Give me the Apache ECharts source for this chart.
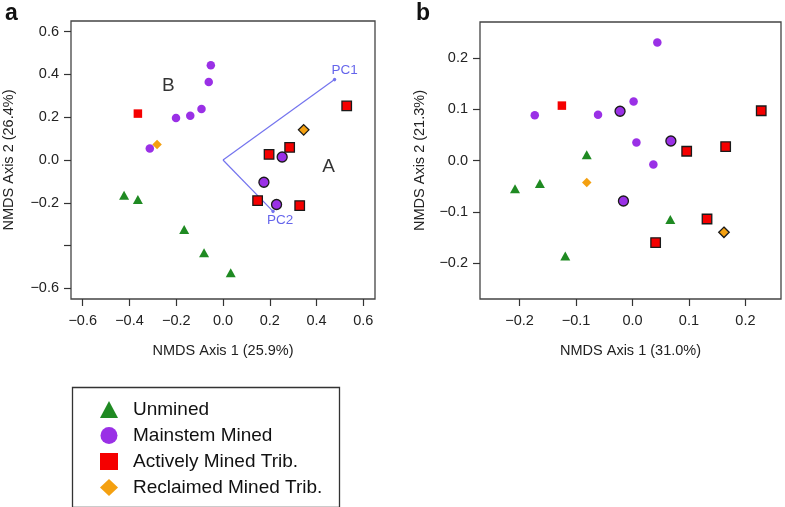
<!DOCTYPE html>
<html>
<head>
<meta charset="utf-8">
<script src="https://cdn.jsdelivr.net/npm/echarts@6/dist/echarts.min.js"></script>
<style>
  html, body { margin: 0; padding: 0; background: #fff; }
  #chart { width: 785px; height: 507px; }
</style>
</head>
<body>
<div id="chart"></div>
<script>
// group names (legend order)
var groups = ['Unmined', 'Mainstem Mined', 'Actively Mined Trib.', 'Reclaimed Mined Trib.'];

// panel a: NMDS scores [axis1, axis2]
var aUnmined = [[-0.423, -0.165], [-0.364, -0.185], [-0.166, -0.325], [-0.081, -0.434], [0.033, -0.527]];
var aMainstem = [[-0.052, 0.443], [-0.061, 0.365], [-0.092, 0.238], [-0.140, 0.207], [-0.201, 0.196], [-0.313, 0.054]];
var aMainstemOutlined = [[0.253, 0.014], [0.175, -0.104], [0.229, -0.208]];
var aActive = [[-0.364, 0.217]];
var aActiveOutlined = [[0.529, 0.253], [0.285, 0.059], [0.197, 0.026], [0.148, -0.190], [0.328, -0.213]];
var aReclaimed = [[-0.282, 0.073]];
var aReclaimedOutlined = [[0.345, 0.141]];
// PC vectors and cluster labels in panel a
var aPC1 = [0.477, 0.376];
var aPC2 = [0.214, -0.240];
var aClusterB = [-0.234, 0.346];
var aClusterA = [0.451, -0.030];

// panel b
var bUnmined = [[-0.208, -0.055], [-0.164, -0.045], [-0.081, 0.011], [0.067, -0.115], [-0.119, -0.186]];
var bMainstem = [[0.044, 0.230], [-0.173, 0.088], [-0.061, 0.089], [0.002, 0.115], [0.007, 0.035], [0.037, -0.008]];
var bMainstemOutlined = [[-0.022, 0.096], [0.068, 0.038], [-0.016, -0.079]];
var bActive = [[-0.125, 0.107]];
var bActiveOutlined = [[0.228, 0.097], [0.165, 0.027], [0.096, 0.018], [0.132, -0.114], [0.041, -0.160]];
var bReclaimed = [[-0.081, -0.043]];
var bReclaimedOutlined = [[0.162, -0.140]];

// ticks
var aXTicks = [-0.6, -0.4, -0.2, 0, 0.2, 0.4, 0.6];
var aYTicks = [-0.6, -0.4, -0.2, 0, 0.2, 0.4, 0.6];
var aYLabels = [-0.6, -0.2, 0, 0.2, 0.4, 0.6];
var bXTicks = [-0.2, -0.1, 0, 0.1, 0.2];
var bYTicks = [-0.2, -0.1, 0, 0.1, 0.2];

var aXTitle = 'NMDS Axis 1 (25.9%)';
var aYTitle = 'NMDS Axis 2 (26.4%)';
var bXTitle = 'NMDS Axis 1 (31.0%)';
var bYTitle = 'NMDS Axis 2 (21.3%)';

var FONT = 'Liberation Sans, Arial, Helvetica, sans-serif';
var colors = {
	'Unmined': '#1f8a22',
	'Mainstem Mined': '#9a30e6',
	'Actively Mined Trib.': '#f50000',
	'Reclaimed Mined Trib.': '#f4a010'
};
var symbols = {
	'Unmined': 'triangle',
	'Mainstem Mined': 'circle',
	'Actively Mined Trib.': 'rect',
	'Reclaimed Mined Trib.': 'diamond'
};

var fmt = function(v) {
	return (v < -1e-9 ? '\u2212' : '') + Math.abs(v).toFixed(1);
};

var makeAxis = function(min, max, ticks, labels, title, gap, margin) {
	return {
		type: 'value',
		min: min,
		max: max,
		name: title,
		nameLocation: 'middle',
		nameGap: gap,
		nameTextStyle: { fontFamily: FONT, fontSize: 14.5, color: '#222' },
		axisLine: { show: false, onZero: false },
		axisTick: { show: true, length: 7, customValues: ticks, lineStyle: { color: '#333', width: 1.2 } },
		axisLabel: { show: true, customValues: labels, margin: margin, formatter: fmt,
			fontFamily: FONT, fontSize: 14.5, color: '#222' },
		splitLine: { show: false }
	};
};

// scatter series for one group on one panel
var pts = function(name, data, idx, outlined) {
	var sym = symbols[name];
	var size;
	if (sym === 'triangle') size = [10, 9];
	else if (sym === 'circle') size = outlined ? 10 : 8.5;
	else if (sym === 'rect') size = outlined ? 9.5 : 8.5;
	else size = outlined ? 10.5 : 9.5;
	return {
		name: name,
		type: 'scatter',
		xAxisIndex: idx,
		yAxisIndex: idx,
		symbol: sym,
		symbolSize: size,
		data: data,
		z: 5,
		itemStyle: {
			color: colors[name],
			borderColor: outlined ? '#1a1a1a' : colors[name],
			borderWidth: outlined ? 1.3 : 0,
			opacity: 1
		}
	};
};

var textPoint = function(data, idx, color, size, pos, offset, dist) {
	return {
		type: 'scatter',
		xAxisIndex: idx,
		yAxisIndex: idx,
		symbolSize: 0,
		data: data,
		z: 6,
		label: {
			show: true,
			formatter: '{b}',
			position: pos,
			distance: dist,
			offset: offset,
			fontFamily: FONT,
			fontSize: size,
			color: color
		}
	};
};

var chart = echarts.init(document.getElementById('chart'), null, { renderer: 'canvas' });

var series = [
	// PC arrows
	{
		type: 'lines',
		coordinateSystem: 'cartesian2d',
		xAxisIndex: 0,
		yAxisIndex: 0,
		symbol: ['none', 'circle'],
		symbolSize: 3.5,
		z: 3,
		lineStyle: { color: '#7474ee', width: 1.2, opacity: 1 },
		data: [{ coords: [[0, 0], aPC1] }, { coords: [[0, 0], aPC2] }]
	},
	textPoint([{ name: 'PC1', value: aPC1 }], 0, '#3d3de6', 13.5, 'right', [-3, -9], 0),
	textPoint([{ name: 'PC2', value: aPC2 }], 0, '#3d3de6', 13.5, 'bottom', [7, 0], 2),
	textPoint([{ name: 'B', value: aClusterB }, { name: 'A', value: aClusterA }], 0, '#000', 19, 'inside', [0, 0], 0),

	pts(groups[0], aUnmined, 0, false),
	pts(groups[1], aMainstem, 0, false),
	pts(groups[1], aMainstemOutlined, 0, true),
	pts(groups[2], aActive, 0, false),
	pts(groups[2], aActiveOutlined, 0, true),
	pts(groups[3], aReclaimed, 0, false),
	pts(groups[3], aReclaimedOutlined, 0, true),

	pts(groups[0], bUnmined, 1, false),
	pts(groups[1], bMainstem, 1, false),
	pts(groups[1], bMainstemOutlined, 1, true),
	pts(groups[2], bActive, 1, false),
	pts(groups[2], bActiveOutlined, 1, true),
	pts(groups[3], bReclaimed, 1, false),
	pts(groups[3], bReclaimedOutlined, 1, true)
];

var option = {
	animation: false,
	backgroundColor: '#fff',
	title: [
		{ text: 'a', left: 0, top: -3, textStyle: { fontFamily: FONT, fontSize: 23, fontWeight: 'bold', color: '#111' } },
		{ text: 'b', left: 411, top: -3, textStyle: { fontFamily: FONT, fontSize: 23, fontWeight: 'bold', color: '#111' } }
	],
	grid: [
		{ left: 70, top: 21, width: 305, height: 278, show: true, borderColor: '#444', borderWidth: 1.3, backgroundColor: 'transparent' },
		{ left: 480, top: 22, width: 301, height: 277, show: true, borderColor: '#444', borderWidth: 1.3, backgroundColor: 'transparent' }
	],
	xAxis: [
		Object.assign(makeAxis(-0.65, 0.65, aXTicks, aXTicks, aXTitle, 44, 14), { gridIndex: 0 }),
		Object.assign(makeAxis(-0.27, 0.263, bXTicks, bXTicks, bXTitle, 44, 14), { gridIndex: 1 })
	],
	yAxis: [
		Object.assign(makeAxis(-0.65, 0.65, aYTicks, aYLabels, aYTitle, 55, 12), { gridIndex: 0 }),
		Object.assign(makeAxis(-0.27, 0.27, bYTicks, bYTicks, bYTitle, 53, 12), { gridIndex: 1 })
	],
	legend: {
		orient: 'vertical',
		left: 100,
		top: 400,
		padding: 0,
		itemWidth: 18,
		itemHeight: 17,
		itemGap: 7,
		selectedMode: false,
		textStyle: { fontFamily: FONT, fontSize: 19, lineHeight: 17, color: '#111', padding: [0, 0, 0, 10] },
		data: groups.map(function(g) {
			return { name: g, icon: symbols[g], itemStyle: { color: colors[g], borderWidth: 0 } };
		})
	},
	graphic: [
		{ type: 'rect', left: 70, top: 385, shape: { width: 267, height: 120 },
			style: { fill: 'none', stroke: '#333', lineWidth: 1.3 } }
	],
	series: series
};

chart.setOption(option);
</script>
</body>
</html>
